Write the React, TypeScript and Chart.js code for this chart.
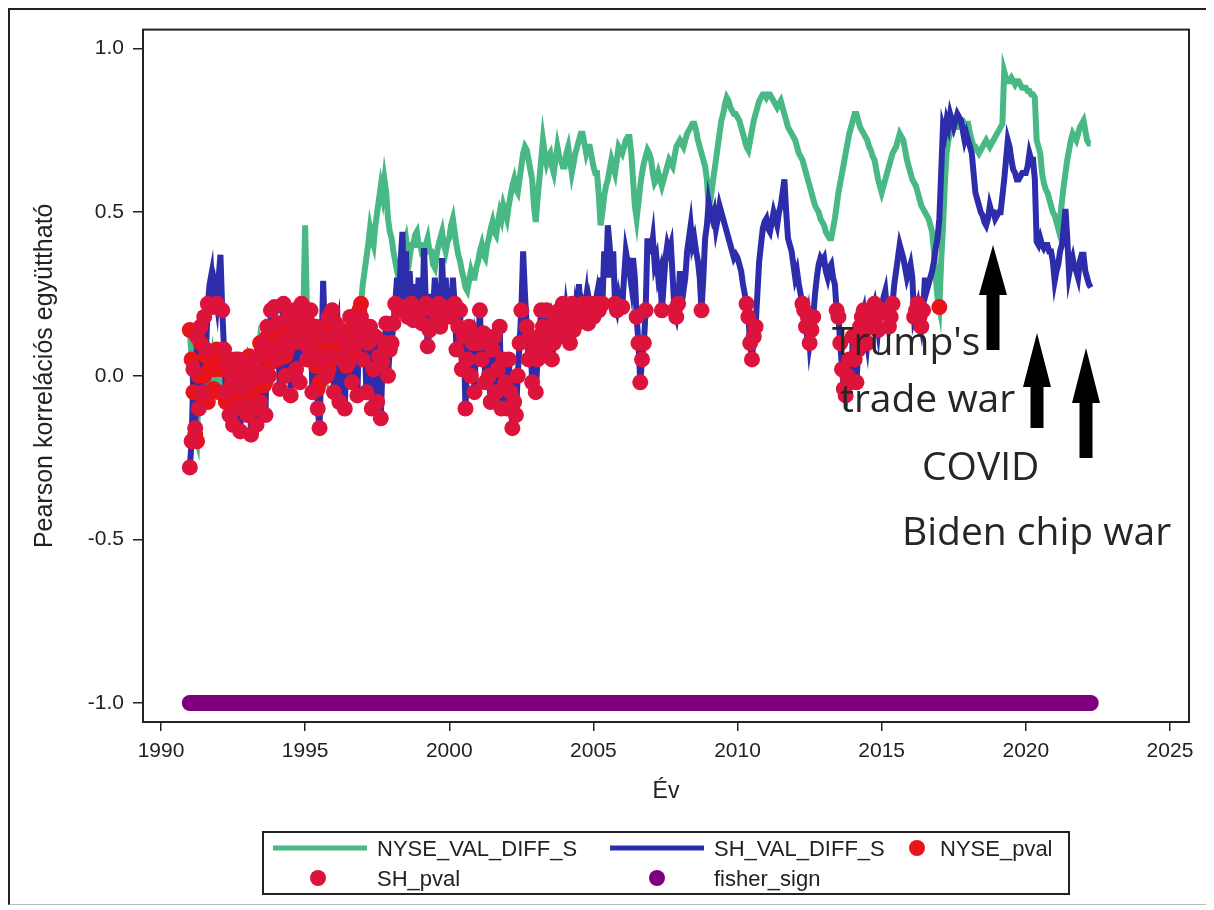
import React, { useEffect, useRef } from "react";
import { Chart, registerables } from "chart.js";

Chart.register(...registerables);

// ---- data ----
const START_YEAR = 1991;
const STEP = 0.0625; // sixteen observations per year

// NYSE rolling correlation (green line)
const NYSE_VAL_DIFF_S = [
  0.14, 0.05, -0.05, -0.18, -0.2, 0.0, 0.1, -0.06, 0.0, 0.06, -0.08, 0.02, 0.05, -0.04, 0.02, 0.08, // 1991
  -0.05, 0.02, 0.04, -0.06, -0.08, 0.03, 0.02, -0.03, -0.06, 0.05, 0.0, -0.08, -0.04, 0.04, 0.03, -0.02, // 1992
  -0.02, 0.06, 0.05, -0.06, -0.1, 0.02, 0.0, 0.1, 0.08, -0.03, -0.02, 0.12, 0.1, 0.04, 0.05, 0.14, // 1993
  0.12, 0.05, 0.08, 0.16, 0.15, 0.06, 0.1, 0.18, 0.18, 0.1, 0.12, 0.2, 0.2, 0.12, 0.15, 0.18, // 1994
  0.46, 0.2, 0.16, 0.06, 0.1, 0.12, 0.03, -0.04, -0.02, 0.1, 0.08, 0.14, 0.12, 0.02, 0.05, 0.1, // 1995
  0.1, 0.16, 0.15, 0.06, 0.08, 0.12, 0.12, 0.03, 0.05, 0.14, 0.14, 0.08, 0.12, 0.16, 0.2, 0.22, // 1996
  0.28, 0.32, 0.36, 0.4, 0.45, 0.42, 0.4, 0.46, 0.5, 0.54, 0.58, 0.55, 0.6, 0.56, 0.48, 0.44, // 1997
  0.42, 0.38, 0.35, 0.32, 0.3, 0.34, 0.38, 0.4, 0.42, 0.38, 0.36, 0.4, 0.4, 0.43, 0.44, 0.4, // 1998
  0.4, 0.37, 0.36, 0.4, 0.42, 0.38, 0.38, 0.34, 0.33, 0.37, 0.4, 0.42, 0.44, 0.4, 0.38, 0.41, // 1999
  0.42, 0.46, 0.48, 0.44, 0.4, 0.37, 0.35, 0.32, 0.3, 0.27, 0.26, 0.29, 0.32, 0.3, 0.3, 0.33, // 2000
  0.35, 0.38, 0.4, 0.37, 0.36, 0.4, 0.42, 0.45, 0.47, 0.44, 0.43, 0.47, 0.5, 0.48, 0.52, 0.5, // 2001
  0.48, 0.52, 0.55, 0.58, 0.6, 0.57, 0.56, 0.6, 0.64, 0.68, 0.7, 0.69, 0.66, 0.63, 0.6, 0.52, // 2002
  0.47, 0.54, 0.6, 0.66, 0.72, 0.68, 0.65, 0.67, 0.68, 0.64, 0.62, 0.66, 0.7, 0.67, 0.66, 0.64, // 2003
  0.64, 0.68, 0.7, 0.66, 0.62, 0.65, 0.68, 0.7, 0.72, 0.74, 0.74, 0.71, 0.68, 0.7, 0.7, 0.67, // 2004
  0.64, 0.62, 0.62, 0.55, 0.46, 0.5, 0.55, 0.58, 0.6, 0.63, 0.66, 0.64, 0.62, 0.66, 0.7, 0.69, // 2005
  0.68, 0.7, 0.72, 0.73, 0.73, 0.68, 0.6, 0.52, 0.48, 0.53, 0.58, 0.62, 0.65, 0.67, 0.69, 0.68, // 2006
  0.66, 0.62, 0.59, 0.6, 0.62, 0.6, 0.58, 0.6, 0.62, 0.64, 0.66, 0.65, 0.64, 0.67, 0.7, 0.71, // 2007
  0.72, 0.71, 0.7, 0.72, 0.74, 0.75, 0.76, 0.77, 0.77, 0.75, 0.72, 0.7, 0.68, 0.66, 0.64, 0.6, // 2008
  0.51, 0.54, 0.58, 0.62, 0.66, 0.7, 0.74, 0.78, 0.8, 0.83, 0.85, 0.84, 0.82, 0.81, 0.8, 0.8, // 2009
  0.79, 0.78, 0.76, 0.74, 0.72, 0.7, 0.69, 0.72, 0.75, 0.78, 0.8, 0.82, 0.84, 0.85, 0.86, 0.86, // 2010
  0.85, 0.86, 0.86, 0.85, 0.84, 0.83, 0.82, 0.83, 0.84, 0.82, 0.8, 0.78, 0.76, 0.75, 0.74, 0.73, // 2011
  0.72, 0.7, 0.68, 0.67, 0.66, 0.64, 0.62, 0.6, 0.58, 0.56, 0.54, 0.52, 0.51, 0.5, 0.48, 0.47, // 2012
  0.46, 0.44, 0.43, 0.42, 0.42, 0.45, 0.48, 0.52, 0.56, 0.59, 0.62, 0.65, 0.68, 0.71, 0.74, 0.76, // 2013
  0.78, 0.8, 0.8, 0.78, 0.76, 0.75, 0.74, 0.73, 0.72, 0.7, 0.69, 0.67, 0.66, 0.63, 0.6, 0.58, // 2014
  0.56, 0.58, 0.6, 0.62, 0.64, 0.66, 0.68, 0.69, 0.7, 0.72, 0.74, 0.73, 0.72, 0.69, 0.66, 0.64, // 2015
  0.62, 0.6, 0.59, 0.58, 0.56, 0.54, 0.52, 0.51, 0.5, 0.49, 0.48, 0.46, 0.44, 0.38, 0.3, 0.24, // 2016
  0.21, 0.35, 0.45, 0.58, 0.68, 0.72, 0.74, 0.76, 0.77, 0.76, 0.76, 0.77, 0.78, 0.78, 0.77, 0.77, // 2017
  0.77, 0.74, 0.72, 0.7, 0.7, 0.69, 0.68, 0.69, 0.7, 0.71, 0.72, 0.71, 0.7, 0.71, 0.72, 0.73, // 2018
  0.74, 0.75, 0.76, 0.77, 0.93, 0.91, 0.9, 0.9, 0.91, 0.9, 0.89, 0.9, 0.9, 0.89, 0.88, 0.88, // 2019
  0.88, 0.87, 0.87, 0.86, 0.86, 0.85, 0.72, 0.7, 0.68, 0.62, 0.59, 0.57, 0.56, 0.54, 0.52, 0.5, // 2020
  0.49, 0.47, 0.45, 0.48, 0.53, 0.58, 0.62, 0.66, 0.69, 0.72, 0.74, 0.73, 0.72, 0.74, 0.76, 0.77, // 2021
  0.78, 0.75, 0.72, 0.71, 0.71, // 2022
];

// Shanghai rolling correlation (blue line)
const SH_VAL_DIFF_S = [
  -0.28, -0.2, 0.02, -0.16, 0.12, -0.1, 0.15, -0.05, 0.18, 0.08, 0.22, 0.28, 0.31, 0.21, 0.26, 0.22, // 1991
  0.3, 0.37, 0.2, 0.08, -0.05, 0.04, -0.12, 0.0, -0.15, -0.02, -0.1, 0.05, -0.17, -0.04, -0.1, 0.02, // 1992
  -0.12, -0.02, -0.18, 0.04, -0.1, -0.15, 0.06, -0.08, 0.0, 0.1, -0.12, 0.15, 0.0, 0.2, 0.08, 0.21, // 1993
  0.05, 0.16, -0.04, 0.1, 0.22, 0.0, 0.08, 0.18, -0.06, 0.12, 0.2, 0.02, 0.15, -0.02, 0.22, 0.1, // 1994
  0.18, 0.05, 0.12, 0.2, -0.05, 0.08, 0.15, -0.1, -0.16, 0.05, 0.29, 0.12, 0.0, 0.18, 0.06, 0.2, // 1995
  -0.05, 0.12, 0.15, -0.08, 0.05, 0.12, -0.1, 0.08, 0.04, 0.18, -0.02, 0.1, 0.16, -0.06, 0.14, 0.18, // 1996
  0.05, 0.12, -0.05, 0.1, 0.15, -0.1, 0.02, 0.12, -0.08, 0.06, -0.13, 0.04, 0.1, 0.16, 0.0, 0.08, // 1997
  0.1, 0.16, 0.22, 0.3, 0.2, 0.35, 0.44, 0.21, 0.38, 0.18, 0.32, 0.22, 0.17, 0.28, 0.2, 0.3, // 1998
  0.2, 0.16, 0.39, 0.22, 0.09, 0.14, 0.25, 0.2, 0.3, 0.18, 0.22, 0.15, 0.36, 0.21, 0.3, 0.2, // 1999
  0.25, 0.18, 0.3, 0.22, 0.08, 0.15, 0.2, 0.02, 0.12, -0.1, 0.05, 0.15, 0.0, 0.1, -0.05, 0.12, // 2000
  0.1, 0.2, 0.05, 0.13, -0.02, 0.1, 0.0, -0.08, 0.08, 0.12, -0.05, 0.02, 0.15, -0.1, 0.05, -0.02, // 2001
  -0.1, 0.05, -0.05, -0.16, -0.08, -0.12, 0.0, 0.1, 0.2, 0.38, 0.25, 0.15, 0.05, 0.12, -0.02, 0.08, // 2002
  -0.05, 0.05, 0.12, 0.2, 0.15, 0.08, 0.2, 0.12, 0.15, 0.05, 0.1, 0.18, 0.12, 0.2, 0.15, 0.22, // 2003
  0.12, 0.2, 0.16, 0.1, 0.22, 0.14, 0.2, 0.16, 0.28, 0.18, 0.22, 0.2, 0.24, 0.16, 0.22, 0.19, // 2004
  0.18, 0.22, 0.25, 0.2, 0.3, 0.22, 0.38, 0.3, 0.46, 0.4, 0.3, 0.38, 0.22, 0.2, 0.24, 0.21, // 2005
  0.21, 0.3, 0.38, 0.35, 0.32, 0.28, 0.36, 0.3, 0.18, 0.1, -0.02, 0.05, 0.1, 0.2, 0.42, 0.38, // 2006
  0.38, 0.42, 0.34, 0.36, 0.3, 0.32, 0.2, 0.28, 0.36, 0.4, 0.38, 0.4, 0.3, 0.2, 0.18, 0.22, // 2007
  0.32, 0.28, 0.26, 0.3, 0.38, 0.42, 0.46, 0.4, 0.42, 0.38, 0.35, 0.3, 0.2, 0.3, 0.42, 0.46, // 2008
  0.53, 0.5, 0.48, 0.5, 0.45, 0.48, 0.52, 0.5, 0.48, 0.46, 0.44, 0.42, 0.4, 0.38, 0.36, 0.37, // 2009
  0.36, 0.34, 0.32, 0.28, 0.25, 0.22, 0.18, 0.1, 0.05, 0.12, 0.15, 0.25, 0.35, 0.4, 0.45, 0.47, // 2010
  0.48, 0.45, 0.44, 0.47, 0.5, 0.48, 0.46, 0.5, 0.52, 0.56, 0.6, 0.5, 0.42, 0.4, 0.38, 0.34, // 2011
  0.3, 0.32, 0.28, 0.25, 0.22, 0.2, 0.15, 0.18, 0.1, 0.14, 0.18, 0.25, 0.3, 0.34, 0.36, 0.35, // 2012
  0.36, 0.32, 0.3, 0.33, 0.34, 0.3, 0.28, 0.2, 0.18, 0.1, 0.02, -0.04, -0.06, 0.0, 0.05, -0.02, // 2013
  0.12, 0.05, -0.02, 0.08, 0.15, 0.18, 0.2, 0.14, 0.1, 0.16, 0.18, 0.2, 0.22, 0.18, 0.14, 0.2, // 2014
  0.2, 0.24, 0.26, 0.2, 0.15, 0.18, 0.22, 0.28, 0.32, 0.36, 0.4, 0.38, 0.36, 0.33, 0.3, 0.32, // 2015
  0.34, 0.3, 0.18, 0.2, 0.22, 0.18, 0.15, 0.2, 0.3, 0.26, 0.28, 0.3, 0.32, 0.35, 0.39, 0.42, // 2016
  0.48, 0.62, 0.76, 0.74, 0.78, 0.76, 0.8, 0.78, 0.76, 0.78, 0.8, 0.79, 0.78, 0.75, 0.72, 0.74, // 2017
  0.72, 0.7, 0.68, 0.62, 0.56, 0.54, 0.52, 0.5, 0.49, 0.47, 0.46, 0.48, 0.52, 0.5, 0.5, 0.48, // 2018
  0.49, 0.5, 0.5, 0.55, 0.6, 0.66, 0.72, 0.7, 0.66, 0.63, 0.62, 0.6, 0.6, 0.61, 0.62, 0.62, // 2019
  0.62, 0.64, 0.68, 0.66, 0.66, 0.6, 0.41, 0.4, 0.42, 0.4, 0.39, 0.4, 0.4, 0.38, 0.38, 0.35, // 2020
  0.29, 0.32, 0.34, 0.38, 0.4, 0.45, 0.51, 0.42, 0.31, 0.34, 0.36, 0.33, 0.32, 0.3, 0.35, 0.37, // 2021
  0.37, 0.32, 0.3, 0.28, 0.27, // 2022
];

// correlations below this level are not significant -> drawn as p-value dots
const PVAL_LIMIT = 0.225;
// the Fisher test sign is -1 on every date
const FISHER_SIGN_VALUE = -1;

const YEARS = NYSE_VAL_DIFF_S.map((_, i) => START_YEAR + i * STEP);

const X_TICKS = [1990, 1995, 2000, 2005, 2010, 2015, 2020, 2025];
const Y_TICKS = [-1, -0.5, 0, 0.5, 1];
const Y_TICK_LABELS = ["-1.0", "-0.5", "0.0", "0.5", "1.0"];

const X_MIN = 1989.376;
const X_MAX = 2025.66;
const Y_MIN = -1.058;
const Y_MAX = 1.058;

const ANNOTATIONS = [
  { text: "Trump's", x: 824, y: 347 },
  { text: "trade war", x: 832, y: 404 },
  { text: "COVID", x: 914, y: 472 },
  { text: "Biden chip war", x: 894, y: 537 },
];
const ARROWS = [
  { cx: 985, tip: 237, base: 287, bottom: 342 },
  { cx: 1029, tip: 325, base: 379, bottom: 420 },
  { cx: 1078, tip: 340, base: 395, bottom: 450 },
];

// ---- styles ----
const GREEN = "#48b884";
const BLUE = "#2d2dac";
const RED = "#e8141c";
const CRIMSON = "#dc143c";
const PURPLE = "#7f007f";
const INK = "#222222";
const FONT = "'Liberation Sans', Arial, Helvetica, sans-serif";

const W = 1201;
const H = 897;

function toPoints(vals: number[]) {
  return vals.map((v, i) => ({ x: YEARS[i], y: v }));
}

const framePlugin = {
  id: "frame",
  afterDatasetsDraw(chart: any) {
    const { ctx, chartArea } = chart;
    ctx.save();
    ctx.strokeStyle = INK;
    ctx.lineWidth = 2;
    ctx.strokeRect(
      chartArea.left,
      chartArea.top,
      chartArea.right - chartArea.left,
      chartArea.bottom - chartArea.top
    );
    ctx.restore();
  },
};

export default function App() {
  const ref = useRef<HTMLCanvasElement | null>(null);

  useEffect(() => {
    if (!ref.current) return;
    const nysePts = toPoints(NYSE_VAL_DIFF_S);
    const shPts = toPoints(SH_VAL_DIFF_S);
    const nysePval = nysePts.filter((p) => p.y <= PVAL_LIMIT);
    const shPval = shPts.filter((p) => p.y <= PVAL_LIMIT);
    const fisher = YEARS.map((x) => ({ x, y: FISHER_SIGN_VALUE }));

    const chart = new Chart(ref.current, {
      type: "scatter",
      data: {
        datasets: [
          {
            label: "NYSE_VAL_DIFF_S",
            data: nysePts,
            showLine: true,
            borderColor: GREEN,
            borderWidth: 6,
            borderJoinStyle: "miter",
            pointRadius: 0,
            fill: false,
            order: 5,
          },
          {
            label: "SH_VAL_DIFF_S",
            data: shPts,
            showLine: true,
            borderColor: BLUE,
            borderWidth: 6,
            borderJoinStyle: "miter",
            pointRadius: 0,
            fill: false,
            order: 4,
          },
          {
            label: "NYSE_pval",
            data: nysePval,
            backgroundColor: RED,
            borderWidth: 0,
            pointRadius: 8,
            order: 3,
          },
          {
            label: "SH_pval",
            data: shPval,
            backgroundColor: CRIMSON,
            borderWidth: 0,
            pointRadius: 8,
            order: 2,
          },
          {
            label: "fisher_sign",
            data: fisher,
            backgroundColor: PURPLE,
            borderWidth: 0,
            pointRadius: 8,
            order: 1,
          },
        ],
      } as any,
      options: {
        animation: false,
        responsive: false,
        maintainAspectRatio: false,
        events: [],
        layout: { padding: { left: 0, top: 21, right: 20, bottom: 98 } },
        elements: { line: { tension: 0 } },
        plugins: {
          legend: { display: false },
          tooltip: { enabled: false },
        },
        scales: {
          x: {
            type: "linear",
            min: X_MIN,
            max: X_MAX,
            afterBuildTicks: (s: any) => {
              s.ticks = X_TICKS.map((v) => ({ value: v }));
            },
            afterFit: (s: any) => {
              s.height = 85;
            },
            grid: {
              drawOnChartArea: false,
              drawTicks: true,
              tickLength: 9,
              color: INK,
              lineWidth: 1.5,
            },
            border: { display: false },
            ticks: {
              autoSkip: false,
              maxRotation: 0,
              padding: 8,
              color: INK,
              font: { family: FONT, size: 21 },
              callback: (v: any) => String(v),
            },
            title: {
              display: true,
              text: "Év",
              color: INK,
              font: { family: FONT, size: 23 },
              padding: { top: 0, bottom: 2 },
            },
          },
          y: {
            type: "linear",
            min: Y_MIN,
            max: Y_MAX,
            afterBuildTicks: (s: any) => {
              s.ticks = Y_TICKS.map((v) => ({ value: v }));
            },
            afterFit: (s: any) => {
              s.width = 135;
            },
            grid: {
              drawOnChartArea: false,
              drawTicks: true,
              tickLength: 10,
              color: INK,
              lineWidth: 1.5,
            },
            border: { display: false },
            ticks: {
              autoSkip: false,
              padding: 9,
              color: INK,
              font: { family: FONT, size: 21 },
              callback: (v: any) => {
                const i = Y_TICKS.indexOf(Number(v));
                return i >= 0 ? Y_TICK_LABELS[i] : "";
              },
            },
            title: {
              display: true,
              text: "Pearson korrelációs együttható",
              color: INK,
              font: { family: FONT, size: 25 },
              padding: { top: 22, bottom: 0 },
            },
          },
        },
      } as any,
      plugins: [framePlugin],
    });
    return () => chart.destroy();
  }, []);

  const legendText = {
    fontFamily: FONT,
    fontSize: 22,
    fill: INK,
  } as any;

  return (
    <div style={{ position: "relative", width: W, height: H, background: "#fff" }}>
      <canvas
        ref={ref}
        width={W}
        height={H}
        style={{ position: "absolute", left: 0, top: 0, width: W, height: H }}
      />
      <svg
        width={W}
        height={H}
        style={{ position: "absolute", left: 0, top: 0, pointerEvents: "none" }}
      >
        {ARROWS.map((a, i) => (
          <polygon
            key={"a" + i}
            fill="#000"
            points={[
              [a.cx, a.tip],
              [a.cx + 14, a.base],
              [a.cx + 6.5, a.base],
              [a.cx + 6.5, a.bottom],
              [a.cx - 6.5, a.bottom],
              [a.cx - 6.5, a.base],
              [a.cx - 14, a.base],
            ]
              .map((p) => p.join(","))
              .join(" ")}
          />
        ))}
        {ANNOTATIONS.map((t, i) => (
          <text
            key={"t" + i}
            x={t.x}
            y={t.y}
            fontFamily="'Open Sans', 'Noto Sans', sans-serif"
            fontSize={39}
            fill="#262626"
          >
            {t.text}
          </text>
        ))}
        {/* legend */}
        <rect x={255} y={824} width={806} height={62} fill="#fff" stroke={INK} strokeWidth={2} />
        <line x1={265} y1={840} x2={359} y2={840} stroke={GREEN} strokeWidth={5} />
        <text x={369} y={848} {...legendText}>NYSE_VAL_DIFF_S</text>
        <line x1={602} y1={840} x2={696} y2={840} stroke={BLUE} strokeWidth={5} />
        <text x={706} y={848} {...legendText}>SH_VAL_DIFF_S</text>
        <circle cx={909} cy={840} r={8} fill={RED} />
        <text x={932} y={848} {...legendText}>NYSE_pval</text>
        <circle cx={310} cy={870} r={8} fill={CRIMSON} />
        <text x={369} y={878} {...legendText}>SH_pval</text>
        <circle cx={649} cy={870} r={8} fill={PURPLE} />
        <text x={706} y={878} {...legendText}>fisher_sign</text>
      </svg>
      <div
        style={{
          position: "absolute",
          left: 0,
          top: 0,
          width: W,
          height: H,
          boxSizing: "border-box",
          borderLeft: "2px solid #222",
          borderTop: "2px solid #222",
          borderRight: "1px solid #bbb",
          borderBottom: "1px solid #bbb",
          pointerEvents: "none",
        }}
      />
    </div>
  );
}
